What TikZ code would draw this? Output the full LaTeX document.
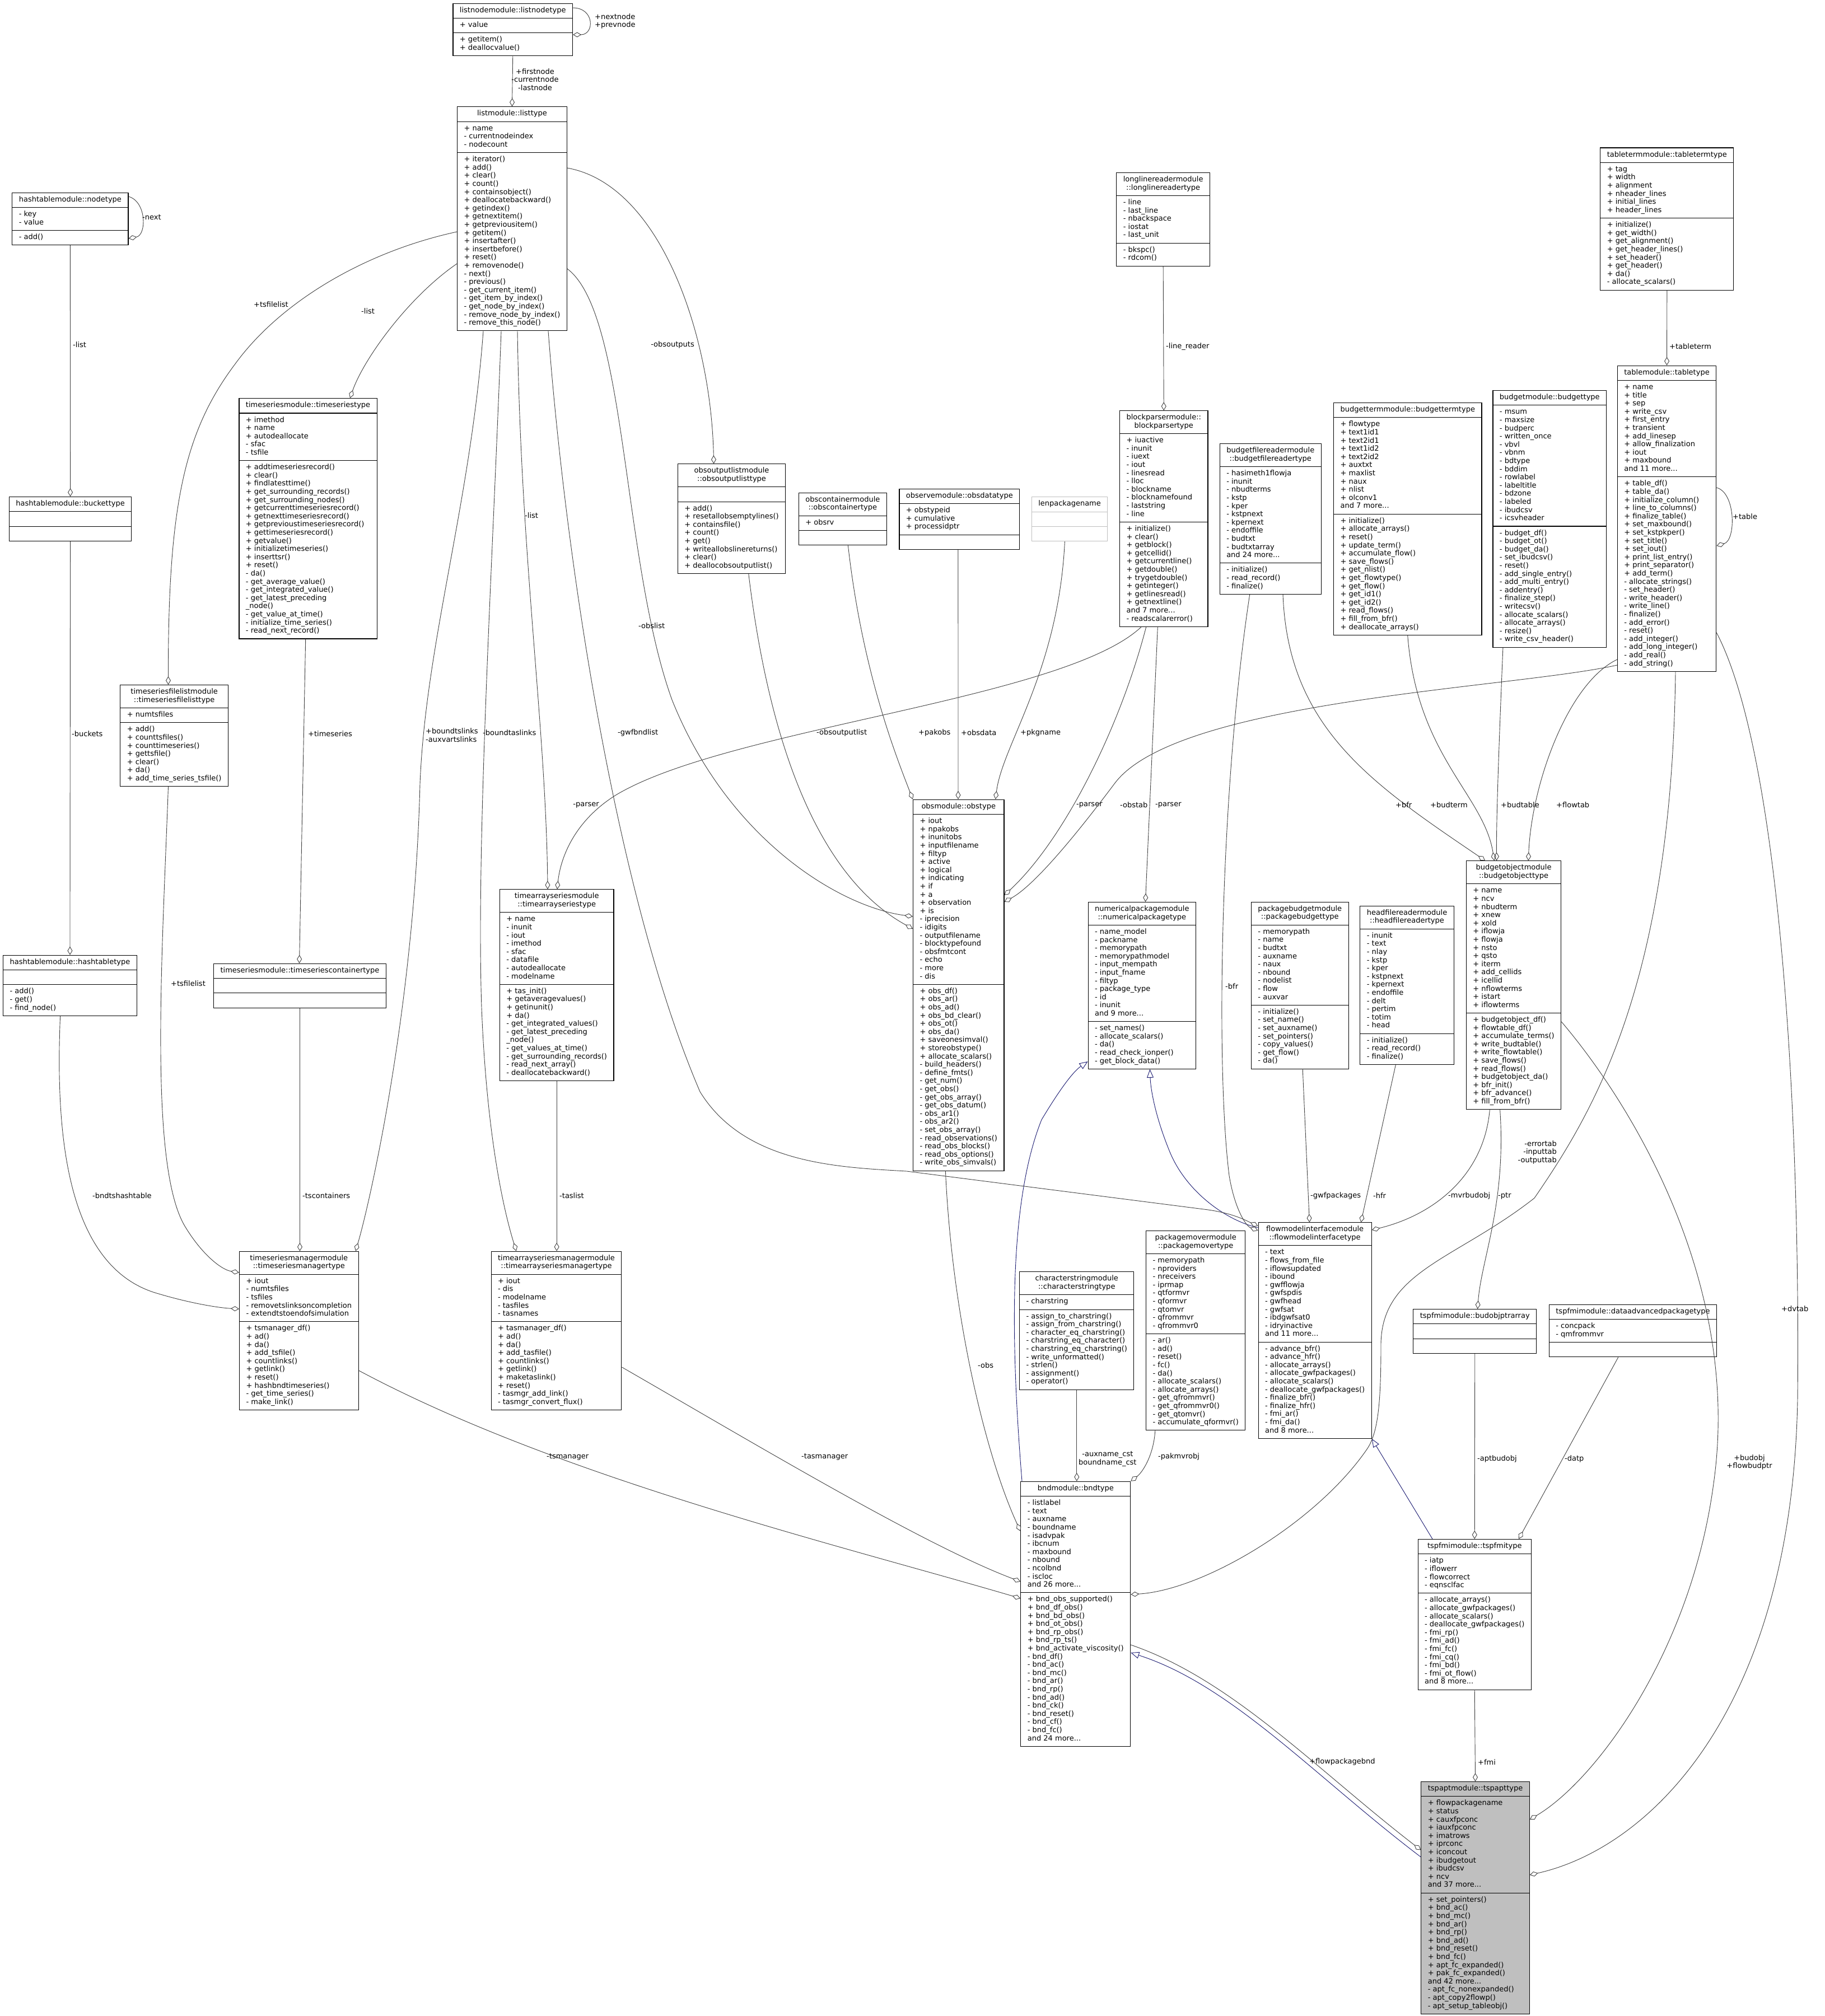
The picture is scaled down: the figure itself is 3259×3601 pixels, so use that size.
\documentclass[tikz,border=0pt]{standalone}
\usepackage{fontspec}
\setmainfont{DejaVu Sans}
\usetikzlibrary{arrows.meta,shapes.multipart}
\definecolor{edgec}{HTML}{404040}
\definecolor{navyc}{HTML}{191970}
\definecolor{graybox}{HTML}{BFBFBF}
\newcommand\fs{\fontsize{13}{14.6}\selectfont}
\newcommand\lns[1]{{\let\\\cr\vbox{\halign{\strut##\hfil\cr#1\crcr}}}}
\newcommand\ttl[1]{{\let\\\cr\vbox{\halign{\hfil\strut##\hfil\cr#1\crcr}}}}
\tikzset{
 cls/.style={rectangle split, rectangle split parts=3, rectangle split part align={center,left,left},
   draw=black, line width=1.1pt, inner xsep=12pt, inner ysep=5.3pt, font=\fs, anchor=north west},
 agg/.style={draw=edgec, line width=0.9pt, -{Diamond[open,length=15pt,width=9pt]}},
 inh/.style={draw=navyc, line width=0.9pt, -{Triangle[open,length=15pt,width=12pt]}},
 lbl/.style={font=\fs, inner sep=0pt, align=left, anchor=west},
}
\begin{document}
\begin{tikzpicture}[x=1pt,y=1pt]
\useasboundingbox (0,0) rectangle (3259,-3601);

% ---------------- classes ----------------
\node[cls] (listnode) at (808.4,-5.7) {\ttl{listnodemodule::listnodetype}\nodepart{two}\lns{+ value}\nodepart{three}\lns{+ getitem()\\+ deallocvalue()}};
\node[cls] (listtype) at (816,-190.2) {\ttl{listmodule::listtype}\nodepart{two}\lns{+ name\\- currentnodeindex\\- nodecount}\nodepart{three}\lns{+ iterator()\\+ add()\\+ clear()\\+ count()\\+ containsobject()\\+ deallocatebackward()\\+ getindex()\\+ getnextitem()\\+ getpreviousitem()\\+ getitem()\\+ insertafter()\\+ insertbefore()\\+ reset()\\+ removenode()\\- next()\\- previous()\\- get\_current\_item()\\- get\_item\_by\_index()\\- get\_node\_by\_index()\\- remove\_node\_by\_index()\\- remove\_this\_node()}};
\node[cls] (nodetype) at (21.3,-343.6) {\ttl{hashtablemodule::nodetype}\nodepart{two}\lns{- key\\- value}\nodepart{three}\lns{- add()}};
\node[cls] (bucket) at (15.8,-886.9) {\ttl{hashtablemodule::buckettype}\nodepart{two}\strut\nodepart{three}\strut};
\node[cls] (tstype) at (426.4,-711.1) {\ttl{timeseriesmodule::timeseriestype}\nodepart{two}\lns{+ imethod\\+ name\\+ autodeallocate\\- sfac\\- tsfile}\nodepart{three}\lns{+ addtimeseriesrecord()\\+ clear()\\+ findlatesttime()\\+ get\_surrounding\_records()\\+ get\_surrounding\_nodes()\\+ getcurrenttimeseriesrecord()\\+ getnexttimeseriesrecord()\\+ getprevioustimeseriesrecord()\\+ gettimeseriesrecord()\\+ getvalue()\\+ initializetimeseries()\\+ inserttsr()\\+ reset()\\- da()\\- get\_average\_value()\\- get\_integrated\_value()\\- get\_latest\_preceding\\\_node()\\- get\_value\_at\_time()\\- initialize\_time\_series()\\- read\_next\_record()}};
\node[cls] (tsflist) at (214.3,-1223) {\ttl{timeseriesfilelistmodule\\::timeseriesfilelisttype}\nodepart{two}\lns{+ numtsfiles}\nodepart{three}\lns{+ add()\\+ counttsfiles()\\+ counttimeseries()\\+ gettsfile()\\+ clear()\\+ da()\\+ add\_time\_series\_tsfile()}};
\node[cls] (hashtable) at (5,-1705.7) {\ttl{hashtablemodule::hashtabletype}\nodepart{two}\strut\nodepart{three}\lns{- add()\\- get()\\- find\_node()}};
\node[cls] (tscont) at (381,-1720.7) {\ttl{timeseriesmodule::timeseriescontainertype}\nodepart{two}\strut\nodepart{three}\strut};
\node[cls] (tastype) at (891.8,-1588.3) {\ttl{timearrayseriesmodule\\::timearrayseriestype}\nodepart{two}\lns{+ name\\- inunit\\- iout\\- imethod\\- sfac\\- datafile\\- autodeallocate\\- modelname}\nodepart{three}\lns{+ tas\_init()\\+ getaveragevalues()\\+ getinunit()\\+ da()\\- get\_integrated\_values()\\- get\_latest\_preceding\\\_node()\\- get\_values\_at\_time()\\- get\_surrounding\_records()\\- read\_next\_array()\\- deallocatebackward()}};
\node[cls] (obsout) at (1209.9,-828.3) {\ttl{obsoutputlistmodule\\::obsoutputlisttype}\nodepart{two}\strut\nodepart{three}\lns{+ add()\\+ resetallobsemptylines()\\+ containsfile()\\+ count()\\+ get()\\+ writeallobslinereturns()\\+ clear()\\+ deallocobsoutputlist()}};
\node[cls] (obscont) at (1425.8,-879.7) {\ttl{obscontainermodule\\::obscontainertype}\nodepart{two}\lns{+ obsrv}\nodepart{three}\strut};
\node[cls] (obsdata) at (1605.4,-872.7) {\ttl{observemodule::obsdatatype}\nodepart{two}\lns{+ obstypeid\\+ cumulative\\+ processidptr}\nodepart{three}\strut};
\node[cls, draw=graybox] (lenpkg) at (1841.7,-887.3) {\ttl{lenpackagename}\nodepart{two}\strut\nodepart{three}\strut};
\node[cls] (llreader) at (1993.3,-308) {\ttl{longlinereadermodule\\::longlinereadertype}\nodepart{two}\lns{- line\\- last\_line\\- nbackspace\\- iostat\\- last\_unit}\nodepart{three}\lns{- bkspc()\\- rdcom()}};
\node[cls] (bparser) at (1999,-733.2) {\ttl{blockparsermodule::\\blockparsertype}\nodepart{two}\lns{+ iuactive\\- inunit\\- iuext\\- iout\\- linesread\\- lloc\\- blockname\\- blocknamefound\\- laststring\\- line}\nodepart{three}\lns{+ initialize()\\+ clear()\\+ getblock()\\+ getcellid()\\+ getcurrentline()\\+ getdouble()\\+ trygetdouble()\\+ getinteger()\\+ getlinesread()\\+ getnextline()\\and 7 more...\\- readscalarerror()}};
\node[cls] (bfreader) at (2177.7,-792.1) {\ttl{budgetfilereadermodule\\::budgetfilereadertype}\nodepart{two}\lns{- hasimeth1flowja\\- inunit\\- nbudterms\\- kstp\\- kper\\- kstpnext\\- kpernext\\- endoffile\\- budtxt\\- budtxtarray\\and 24 more...}\nodepart{three}\lns{- initialize()\\- read\_record()\\- finalize()}};
\node[cls] (budterm) at (2381,-719) {\ttl{budgettermmodule::budgettermtype}\nodepart{two}\lns{+ flowtype\\+ text1id1\\+ text2id1\\+ text1id2\\+ text2id2\\+ auxtxt\\+ maxlist\\+ naux\\+ nlist\\+ olconv1\\and 7 more...}\nodepart{three}\lns{+ initialize()\\+ allocate\_arrays()\\+ reset()\\+ update\_term()\\+ accumulate\_flow()\\+ save\_flows()\\+ get\_nlist()\\+ get\_flowtype()\\+ get\_flow()\\+ get\_id1()\\+ get\_id2()\\+ read\_flows()\\+ fill\_from\_bfr()\\+ deallocate\_arrays()}};
\node[cls] (budget) at (2665.4,-697) {\ttl{budgetmodule::budgettype}\nodepart{two}\lns{- msum\\- maxsize\\- budperc\\- written\_once\\- vbvl\\- vbnm\\- bdtype\\- bddim\\- rowlabel\\- labeltitle\\- bdzone\\- labeled\\- ibudcsv\\- icsvheader}\nodepart{three}\lns{- budget\_df()\\- budget\_ot()\\- budget\_da()\\- set\_ibudcsv()\\- reset()\\- add\_single\_entry()\\- add\_multi\_entry()\\- addentry()\\- finalize\_step()\\- writecsv()\\- allocate\_scalars()\\- allocate\_arrays()\\- resize()\\- write\_csv\_header()}};
\node[cls] (tableterm) at (2857.2,-263.4) {\ttl{tabletermmodule::tabletermtype}\nodepart{two}\lns{+ tag\\+ width\\+ alignment\\+ nheader\_lines\\+ initial\_lines\\+ header\_lines}\nodepart{three}\lns{+ initialize()\\+ get\_width()\\+ get\_alignment()\\+ get\_header\_lines()\\+ set\_header()\\+ get\_header()\\+ da()\\- allocate\_scalars()}};
\node[cls] (table) at (2887.8,-652.6) {\ttl{tablemodule::tabletype}\nodepart{two}\lns{+ name\\+ title\\+ sep\\+ write\_csv\\+ first\_entry\\+ transient\\+ add\_linesep\\+ allow\_finalization\\+ iout\\+ maxbound\\and 11 more...}\nodepart{three}\lns{+ table\_df()\\+ table\_da()\\+ initialize\_column()\\+ line\_to\_columns()\\+ finalize\_table()\\+ set\_maxbound()\\+ set\_kstpkper()\\+ set\_title()\\+ set\_iout()\\+ print\_list\_entry()\\+ print\_separator()\\+ add\_term()\\- allocate\_strings()\\- set\_header()\\- write\_header()\\- write\_line()\\- finalize()\\- add\_error()\\- reset()\\- add\_integer()\\- add\_long\_integer()\\- add\_real()\\- add\_string()}};
\node[cls] (obstype) at (1630,-1427.7) {\ttl{obsmodule::obstype}\nodepart{two}\lns{+ iout\\+ npakobs\\+ inunitobs\\+ inputfilename\\+ filtyp\\+ active\\+ logical\\+ indicating\\+ if\\+ a\\+ observation\\+ is\\- iprecision\\- idigits\\- outputfilename\\- blocktypefound\\- obsfmtcont\\- echo\\- more\\- dis}\nodepart{three}\lns{+ obs\_df()\\+ obs\_ar()\\+ obs\_ad()\\+ obs\_bd\_clear()\\+ obs\_ot()\\+ obs\_da()\\+ saveonesimval()\\+ storeobstype()\\+ allocate\_scalars()\\- build\_headers()\\- define\_fmts()\\- get\_num()\\- get\_obs()\\- get\_obs\_array()\\- get\_obs\_datum()\\- obs\_ar1()\\- obs\_ar2()\\- set\_obs\_array()\\- read\_observations()\\- read\_obs\_blocks()\\- read\_obs\_options()\\- write\_obs\_simvals()}};
\node[cls] (numpkg) at (1942.5,-1610.9) {\ttl{numericalpackagemodule\\::numericalpackagetype}\nodepart{two}\lns{- name\_model\\- packname\\- memorypath\\- memorypathmodel\\- input\_mempath\\- input\_fname\\- filtyp\\- package\_type\\- id\\- inunit\\and 9 more...}\nodepart{three}\lns{- set\_names()\\- allocate\_scalars()\\- da()\\- read\_check\_ionper()\\- get\_block\_data()}};
\node[cls] (pkgbud) at (2233.9,-1610.7) {\ttl{packagebudgetmodule\\::packagebudgettype}\nodepart{two}\lns{- memorypath\\- name\\- budtxt\\- auxname\\- naux\\- nbound\\- nodelist\\- flow\\- auxvar}\nodepart{three}\lns{- initialize()\\- set\_name()\\- set\_auxname()\\- set\_pointers()\\- copy\_values()\\- get\_flow()\\- da()}};
\node[cls] (hfreader) at (2428.3,-1617.7) {\ttl{headfilereadermodule\\::headfilereadertype}\nodepart{two}\lns{- inunit\\- text\\- nlay\\- kstp\\- kper\\- kstpnext\\- kpernext\\- endoffile\\- delt\\- pertim\\- totim\\- head}\nodepart{three}\lns{- initialize()\\- read\_record()\\- finalize()}};
\node[cls] (budobj) at (2617.8,-1537.3) {\ttl{budgetobjectmodule\\::budgetobjecttype}\nodepart{two}\lns{+ name\\+ ncv\\+ nbudterm\\+ xnew\\+ xold\\+ iflowja\\+ flowja\\+ nsto\\+ qsto\\+ iterm\\+ add\_cellids\\+ icellid\\+ nflowterms\\+ istart\\+ iflowterms}\nodepart{three}\lns{+ budgetobject\_df()\\+ flowtable\_df()\\+ accumulate\_terms()\\+ write\_budtable()\\+ write\_flowtable()\\+ save\_flows()\\+ read\_flows()\\+ budgetobject\_da()\\+ bfr\_init()\\+ bfr\_advance()\\+ fill\_from\_bfr()}};
\node[cls] (tsmgr) at (427,-2234.7) {\ttl{timeseriesmanagermodule\\::timeseriesmanagertype}\nodepart{two}\lns{+ iout\\- numtsfiles\\- tsfiles\\- removetslinksoncompletion\\- extendtstoendofsimulation}\nodepart{three}\lns{+ tsmanager\_df()\\+ ad()\\+ da()\\+ add\_tsfile()\\+ countlinks()\\+ getlink()\\+ reset()\\+ hashbndtimeseries()\\- get\_time\_series()\\- make\_link()}};
\node[cls] (tasmgr) at (876.5,-2234.7) {\ttl{timearrayseriesmanagermodule\\::timearrayseriesmanagertype}\nodepart{two}\lns{+ iout\\- dis\\- modelname\\- tasfiles\\- tasnames}\nodepart{three}\lns{+ tasmanager\_df()\\+ ad()\\+ da()\\+ add\_tasfile()\\+ countlinks()\\+ getlink()\\+ maketaslink()\\+ reset()\\- tasmgr\_add\_link()\\- tasmgr\_convert\_flux()}};
\node[cls] (charstr) at (1820.1,-2271.3) {\ttl{characterstringmodule\\::characterstringtype}\nodepart{two}\lns{- charstring}\nodepart{three}\lns{- assign\_to\_charstring()\\- assign\_from\_charstring()\\- character\_eq\_charstring()\\- charstring\_eq\_character()\\- charstring\_eq\_charstring()\\- write\_unformatted()\\- strlen()\\- assignment()\\- operator()}};
\node[cls] (pkgmvr) at (2046.1,-2198) {\ttl{packagemovermodule\\::packagemovertype}\nodepart{two}\lns{- memorypath\\- nproviders\\- nreceivers\\- iprmap\\- qtformvr\\- qformvr\\- qtomvr\\- qfrommvr\\- qfrommvr0}\nodepart{three}\lns{- ar()\\- ad()\\- reset()\\- fc()\\- da()\\- allocate\_scalars()\\- allocate\_arrays()\\- get\_qfrommvr()\\- get\_qfrommvr0()\\- get\_qtomvr()\\- accumulate\_qformvr()}};
\node[cls] (fmi) at (2246.5,-2183.3) {\ttl{flowmodelinterfacemodule\\::flowmodelinterfacetype}\nodepart{two}\lns{- text\\- flows\_from\_file\\- iflowsupdated\\- ibound\\- gwfflowja\\- gwfspdis\\- gwfhead\\- gwfsat\\- ibdgwfsat0\\- idryinactive\\and 11 more...}\nodepart{three}\lns{- advance\_bfr()\\- advance\_hfr()\\- allocate\_arrays()\\- allocate\_gwfpackages()\\- allocate\_scalars()\\- deallocate\_gwfpackages()\\- finalize\_bfr()\\- finalize\_hfr()\\- fmi\_ar()\\- fmi\_da()\\and 8 more...}};
\node[cls] (budptr) at (2523.3,-2338) {\ttl{tspfmimodule::budobjptrarray}\nodepart{two}\strut\nodepart{three}\strut};
\node[cls] (dataadv) at (2765.8,-2329.8) {\ttl{tspfmimodule::dataadvancedpackagetype}\nodepart{two}\lns{- concpack\\- qmfrommvr}\nodepart{three}\strut};
\node[cls] (bnd) at (1822.3,-2645.7) {\ttl{bndmodule::bndtype}\nodepart{two}\lns{- listlabel\\- text\\- auxname\\- boundname\\- isadvpak\\- ibcnum\\- maxbound\\- nbound\\- ncolbnd\\- iscloc\\and 26 more...}\nodepart{three}\lns{+ bnd\_obs\_supported()\\+ bnd\_df\_obs()\\+ bnd\_bd\_obs()\\+ bnd\_ot\_obs()\\+ bnd\_rp\_obs()\\+ bnd\_rp\_ts()\\+ bnd\_activate\_viscosity()\\- bnd\_df()\\- bnd\_ac()\\- bnd\_mc()\\- bnd\_ar()\\- bnd\_rp()\\- bnd\_ad()\\- bnd\_ck()\\- bnd\_reset()\\- bnd\_cf()\\- bnd\_fc()\\and 24 more...}};
\node[cls] (tspfmi) at (2531.6,-2748.9) {\ttl{tspfmimodule::tspfmitype}\nodepart{two}\lns{- iatp\\- iflowerr\\- flowcorrect\\- eqnsclfac}\nodepart{three}\lns{- allocate\_arrays()\\- allocate\_gwfpackages()\\- allocate\_scalars()\\- deallocate\_gwfpackages()\\- fmi\_rp()\\- fmi\_ad()\\- fmi\_fc()\\- fmi\_cq()\\- fmi\_bd()\\- fmi\_ot\_flow()\\and 8 more...}};
\node[cls, fill=graybox] (tspapt) at (2537.3,-3182) {\ttl{tspaptmodule::tspapttype}\nodepart{two}\lns{+ flowpackagename\\+ status\\+ cauxfpconc\\+ iauxfpconc\\+ imatrows\\+ iprconc\\+ iconcout\\+ ibudgetout\\+ ibudcsv\\+ ncv\\and 37 more...}\nodepart{three}\lns{+ set\_pointers()\\+ bnd\_ac()\\+ bnd\_mc()\\+ bnd\_ar()\\+ bnd\_rp()\\+ bnd\_ad()\\+ bnd\_reset()\\+ bnd\_fc()\\+ apt\_fc\_expanded()\\+ pak\_fc\_expanded()\\and 42 more...\\- apt\_fc\_nonexpanded()\\- apt\_copy2flowp()\\- apt\_setup\_tableobj()}};

% ---------------- inheritance ----------------
\draw[inh] (1825,0 |- bnd.north) .. controls (1805,-2400) and (1800,-2150) .. (1860,-2000) .. controls (1890,-1950) and (1915,-1915) .. (numpkg.west |- 0,-1896);
\draw[inh] (fmi.west |- 0,-2193) .. controls (2190,-2180) and (2120,-2130) .. (2090,-2060) .. controls (2065,-2000) and (2055,-1950) .. (2053.4,0 |- numpkg.south);
\draw[inh] (2558,0 |- tspfmi.north) -- (fmi.south east);
\draw[inh] (tspapt.west |- 0,-3317) .. controls (2350,-3175) and (2200,-3010) .. (bnd.east |- 0,-2952);

% ---------------- aggregation ----------------
\draw[agg] (listnode.south) -- (listtype.north);
\node[lbl, align=center, anchor=center] (l1) at (955.5,-142) {+firstnode\\-currentnode\\-lastnode};
\draw[agg] (listnode.east |- 0,-14) .. controls (1062,-14) and (1062,-62) .. (listnode.east |- 0,-62);
\node[lbl] (l2) at (1062,-38) {+nextnode\\+prevnode};
\draw[agg] (nodetype.east |- 0,-351) .. controls (262,-360) and (262,-420) .. (nodetype.east |- 0,-426);
\node[lbl] (l3) at (254,-388) {-next};
\draw[agg] (nodetype.south) -- (bucket.north);
\node[lbl] (l4) at (130,-616) {-list};
\draw[agg] (bucket.south) -- (hashtable.north);
\node[lbl] (l5) at (128,-1311) {-buckets};
\draw[agg] (listtype.west |- 0,-414) .. controls (650,-450) and (500,-540) .. (420,-650) .. controls (330,-770) and (300,-900) .. (300.5,0 |- tsflist.north);
\node[lbl, anchor=east] (l6) at (515,-544) {+tsfilelist};
\draw[agg] (listtype.west |- 0,-471) .. controls (730,-530) and (650,-640) .. (625,0 |- tstype.north);
\node[lbl] (l7) at (645,-556) {-list};
\draw[agg] (863,0 |- listtype.south) .. controls (840,-900) and (760,-1150) .. (750,-1400) .. controls (740,-1800) and (660,-2150) .. (635,0 |- tsmgr.north);
\node[lbl] (l8) at (760,-1313) {+boundtslinks\\-auxvartslinks};
\draw[agg] (895,0 |- listtype.south) .. controls (880,-1000) and (850,-1500) .. (860,-1800) .. controls (870,-2050) and (905,-2180) .. (922,0 |- tasmgr.north);
\node[lbl] (l9) at (862,-1309) {-boundtaslinks};
\draw[agg] (924,0 |- listtype.south) .. controls (930,-1000) and (975,-1300) .. (978,0 |- tastype.north);
\node[lbl] (l10) at (937,-921) {-list};
\draw[agg] (979,0 |- listtype.south) .. controls (1010,-1000) and (1100,-1600) .. (1250,-1950) .. controls (1330,-2080) and (1500,-2085) .. (1619,-2092) -- (2150,-2160) .. controls (2200,-2166) and (2225,-2180) .. (fmi.west |- 0,-2190);
\node[lbl] (l11) at (1103,-1309) {-gwfbndlist};
\draw[agg] (listtype.east |- 0,-480) .. controls (1120,-560) and (1110,-1000) .. (1200,-1250) .. controls (1300,-1500) and (1500,-1620) .. (obstype.west |- 0,-1637);
\node[lbl] (l12) at (1140,-1118) {-obslist};
\draw[agg] (listtype.east |- 0,-300) .. controls (1180,-330) and (1270,-600) .. (1274.6,0 |- obsout.north);
\node[lbl, anchor=east] (l13) at (1240,-616) {-obsoutputs};
\draw[agg] (1336.8,0 |- obsout.south) .. controls (1370,-1300) and (1450,-1560) .. (obstype.west |- 0,-1659);
\node[lbl] (l14) at (1458,-1309) {-obsoutputlist};
\draw[agg] (1514.4,0 |- obscont.south) .. controls (1540,-1200) and (1600,-1350) .. (obstype.north west);
\node[lbl] (l15) at (1640,-1309) {+pakobs};
\draw[agg] (1710.9,0 |- obsdata.south) -- (1711,0 |- obstype.north);
\node[lbl] (l16) at (1716,-1309) {+obsdata};
\draw[agg] (1901.4,0 |- lenpkg.south) .. controls (1890,-1200) and (1790,-1330) .. (1777.7,0 |- obstype.north);
\node[lbl] (l17) at (1822,-1309) {+pkgname};
\draw[agg] (2038,0 |- bparser.south) .. controls (1900,-1250) and (1300,-1300) .. (1100,-1420) .. controls (1020,-1470) and (1000,-1540) .. (995,0 |- tastype.north);
\node[lbl, anchor=east] (l18) at (1070,-1438) {-parser};
\draw[agg] (2046.7,0 |- bparser.south) .. controls (2000,-1300) and (1900,-1500) .. (obstype.east |- 0,-1599);
\node[lbl] (l19) at (1922,-1438) {-parser};
\draw[agg] (table.west |- 0,-1188) .. controls (2700,-1230) and (2100,-1250) .. (1990,-1400) .. controls (1930,-1480) and (1850,-1580) .. (obstype.east |- 0,-1611);
\node[lbl] (l20) at (2000,-1438) {-obstab};
\draw[agg] (2067.3,0 |- bparser.south) -- (2045.4,0 |- numpkg.north);
\node[lbl] (l21) at (2063,-1438) {-parser};
\draw[agg] (llreader.south) -- (bparser.north);
\node[lbl] (l22) at (2082,-619) {-line\_reader};
\draw[agg] (tableterm.south) -- (table.north);
\node[lbl] (l23) at (2981,-618.5) {+tableterm};
\draw[agg] (table.east |- 0,-871) .. controls (3100,-880) and (3100,-965) .. (table.east |- 0,-975);
\node[lbl] (l24) at (3094,-923) {+table};
\draw[agg] (2231.7,0 |- bfreader.south) .. controls (2180,-1400) and (2170,-1900) .. (2195,-2100) .. controls (2205,-2160) and (2225,-2190) .. (fmi.west |- 0,-2198);
\node[lbl] (l25) at (2188,-1762) {-bfr};
\draw[agg] (2291,0 |- bfreader.south) .. controls (2300,-1300) and (2450,-1400) .. (2652.2,0 |- budobj.north);
\node[lbl] (l26) at (2492,-1438) {+bfr};
\draw[agg] (2513.7,0 |- budterm.south) .. controls (2530,-1350) and (2650,-1420) .. (2668.4,0 |- budobj.north);
\node[lbl] (l27) at (2554,-1438) {+budterm};
\draw[agg] (2683.9,0 |- budget.south) .. controls (2678,-1300) and (2672,-1450) .. (2672.5,0 |- budobj.north);
\node[lbl] (l28) at (2680,-1438) {+budtable};
\draw[agg] (table.west |- 0,-1178) .. controls (2800,-1220) and (2735,-1400) .. (2729.2,0 |- budobj.north);
\node[lbl] (l29) at (2779,-1438) {+flowtab};
\draw[agg] (2326.2,0 |- pkgbud.south) -- (2338.4,0 |- fmi.north);
\node[lbl] (l30) at (2340,-2136) {-gwfpackages};
\draw[agg] (2492.3,0 |- hfreader.south) -- (2430.3,0 |- fmi.north);
\node[lbl] (l31) at (2452,-2136) {-hfr};
\draw[agg] (2660.3,0 |- budobj.south) .. controls (2650,-2100) and (2560,-2170) .. (fmi.east |- 0,-2197);
\node[lbl] (l32) at (2586,-2136) {-mvrbudobj};
\draw[agg] (2678.6,0 |- budobj.south) .. controls (2690,-2150) and (2645,-2250) .. (2638.6,0 |- budptr.north);
\node[lbl] (l33) at (2675,-2136) {-ptr};
\draw[agg] (budptr.south) -- (tspfmi.north);
\node[lbl] (l34) at (2638,-2606) {-aptbudobj};
\draw[agg] (2889.7,0 |- dataadv.south) -- (2712,0 |- tspfmi.north);
\node[lbl] (l35) at (2794,-2606) {-datp};
\draw[agg] (tspfmi.south) -- (tspapt.north);
\node[lbl] (l36) at (2639,-3147.6) {+fmi};
\draw[agg] (budobj.east |- 0,-1825) .. controls (2920,-1980) and (3110,-2300) .. (3060,-2650) .. controls (3020,-2950) and (2850,-3180) .. (tspapt.east |- 0,-3250);
\node[lbl, align=center, anchor=center] (l37) at (3124,-2612) {+budobj\\+flowbudptr};
\draw[agg] (table.east |- 0,-1130) .. controls (3180,-1350) and (3215,-2000) .. (3210,-2500) .. controls (3200,-3050) and (2950,-3300) .. (tspapt.east |- 0,-3349);
\node[lbl] (l38) at (3181,-2338) {+dvtab};
\draw[agg] (2992,0 |- table.south) .. controls (2985,-1750) and (2850,-1980) .. (2740,-2140) .. controls (2600,-2250) and (2468,-2270) .. (2466,-2400) .. controls (2466,-2500) and (2462,-2560) .. (2440,-2590) .. controls (2350,-2720) and (2150,-2840) .. (bnd.east |- 0,-2848);
\node[lbl, align=right, anchor=east] (l39) at (2780,-2058) {-errortab\\-inputtab\\-outputtab};
\draw[agg] (bnd.east |- 0,-2938) .. controls (2200,-3000) and (2350,-3160) .. (tspapt.west |- 0,-3304.5);
\node[lbl] (l40) at (2338,-3147) {+flowpackagebnd};
\draw[agg] (tsmgr.east |- 0,-2448) .. controls (1000,-2640) and (1500,-2760) .. (bnd.west |- 0,-2855);
\node[lbl] (l41) at (976,-2602) {-tsmanager};
\draw[agg] (tasmgr.east |- 0,-2442) .. controls (1350,-2580) and (1650,-2760) .. (bnd.west |- 0,-2825);
\node[lbl] (l42) at (1431,-2602) {-tasmanager};
\draw[agg] (1688.4,0 |- obstype.south) .. controls (1700,-2350) and (1760,-2600) .. (bnd.west |- 0,-2735);
\node[lbl] (l43) at (1746,-2439) {-obs};
\draw[agg] (charstr.south) -- (charstr.south |- bnd.north);
\node[lbl, align=center] (l44) at (1926,-2606) {-auxname\_cst\\boundname\_cst};
\draw[agg] (2062.8,0 |- pkgmvr.south) .. controls (2060,-2600) and (2040,-2630) .. (bnd.north east);
\node[lbl] (l45) at (2068,-2602) {-pakmvrobj};
\draw[agg] (545.7,0 |- tstype.south) -- (534.5,0 |- tscont.north);
\node[lbl] (l46) at (550,-1311) {+timeseries};
\draw[agg] (tscont.south) -- (tscont.south |- tsmgr.north);
\node[lbl] (l47) at (540,-2136) {-tscontainers};
\draw[agg] (tastype.south) -- (tastype.south |- tasmgr.north);
\node[lbl] (l48) at (999,-2136) {-taslist};
\draw[agg] (300.5,0 |- tsflist.south) .. controls (290,-1700) and (265,-2080) .. (330,-2190) .. controls (360,-2240) and (395,-2268) .. (tsmgr.west |- 0,-2273);
\node[lbl] (l49) at (305,-1757) {+tsfilelist};
\draw[agg] (107.6,0 |- hashtable.south) .. controls (100,-2000) and (110,-2260) .. (280,-2310) .. controls (340,-2328) and (390,-2336) .. (tsmgr.west |- 0,-2338);
\node[lbl] (l50) at (165,-2136) {-bndtshashtable};
\end{tikzpicture}
\end{document}
